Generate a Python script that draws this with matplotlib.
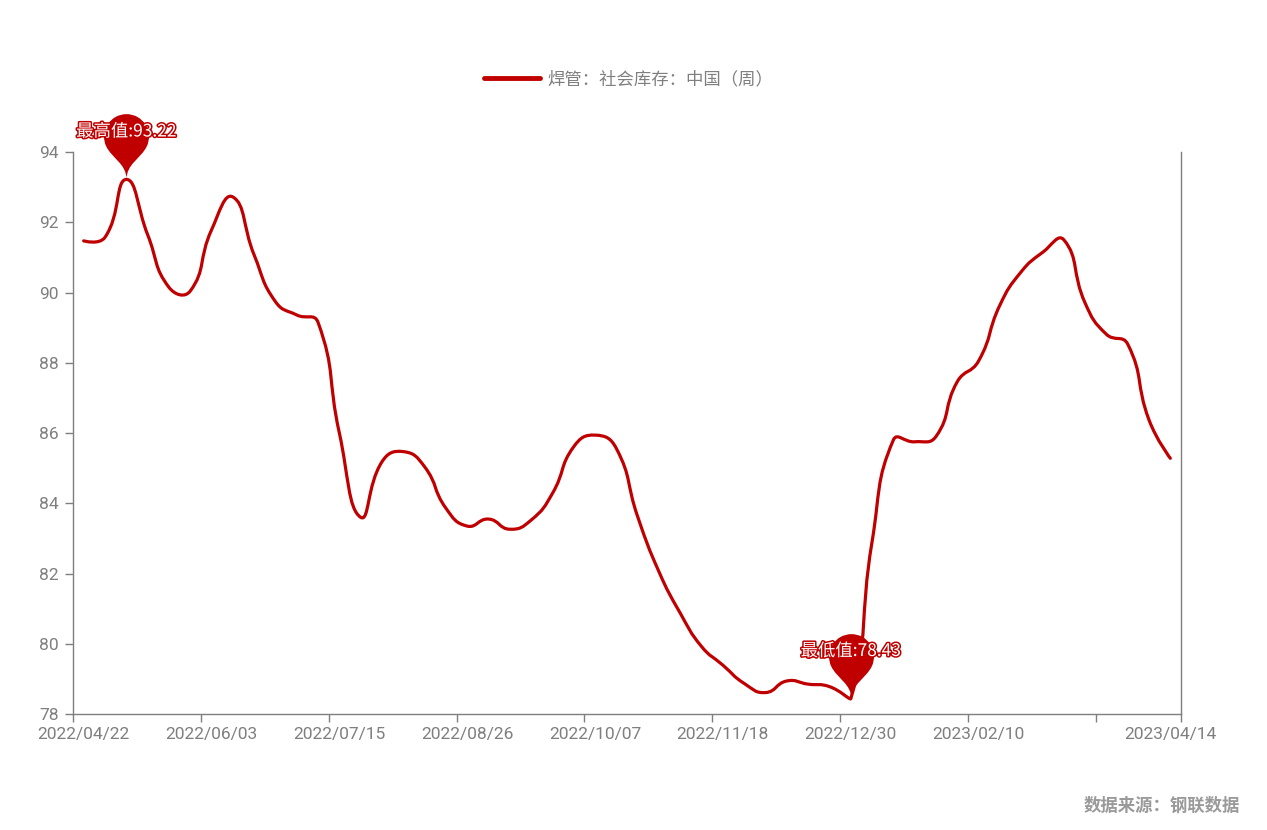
import matplotlib
matplotlib.use('Agg')
import matplotlib.pyplot as plt
import matplotlib.patheffects as pe
from matplotlib.path import Path
from matplotlib.patches import PathPatch
from matplotlib.lines import Line2D
import numpy as np
import pandas as pd

# weekly dates, 2022/04/22 .. 2023/04/14
weeks = pd.date_range('2022-04-22', periods=52, freq='7D').strftime('%Y/%m/%d').tolist()

stock = [91.47, 91.57, 93.22, 91.65, 90.15, 90.04, 91.78, 92.72, 91.07, 89.74,
         89.36, 89.15, 86.00, 83.60, 85.18, 85.47, 85.04, 83.86, 83.35, 83.55,
         83.26, 83.52, 84.28, 85.61, 85.94, 85.56, 83.62, 82.05, 80.87, 79.92,
         79.39, 78.87, 78.61, 78.94, 78.85, 78.78, 78.43, 82.90, 85.80, 85.75,
         85.90, 87.46, 88.05, 89.64, 90.59, 91.14, 91.50, 89.70, 88.81, 88.53,
         86.37, 85.28]

series_name = '焊管：社会库存：中国（周）'
source_text = '数据来源：钢联数据'
label_idx = [0, 6, 12, 18, 24, 30, 36, 42, 51]

RED = '#c00000'
GRAY = '#7f7f7f'
TICK_FONT = ['Roboto', 'DejaVu Sans']
CJK_FONT = ['Noto Sans CJK SC', 'DejaVu Sans']

fig = plt.figure(figsize=(12.67, 8.30), dpi=100)
ax = fig.add_axes([73 / 1267, 1 - 714 / 830, (1181 - 73) / 1267, (714 - 152) / 830])

n = len(stock)
x = np.arange(n)
y = np.array(stock)
ax.set_xlim(-0.5, n - 0.5)
ax.set_ylim(78, 94)

# pixel scale of one data unit, for echarts-like smoothing
o = ax.transData.transform((0, 0))
sx = ax.transData.transform((1, 0))[0] - o[0]
sy = ax.transData.transform((0, 1))[1] - o[1]


def smooth_path(xs, ys, smooth=0.5):
    P = np.column_stack([xs * sx, ys * sy])
    lo, hi = P.min(axis=0), P.max(axis=0)
    verts = [P[0]]
    codes = [Path.MOVETO]
    cp0 = P[0].copy()
    for i in range(1, len(P)):
        p = P[i]
        v = None
        if i == len(P) - 1:
            cp1 = p.copy()
        else:
            v = P[i + 1] - P[i - 1]
            d0 = np.hypot(*(p - P[i - 1]))
            d1 = np.hypot(*(P[i + 1] - p))
            r = d1 / (d0 + d1)
            cp1 = p - v * smooth * (1 - r)
        verts += [np.clip(cp0, lo, hi), np.clip(cp1, lo, hi), p]
        codes += [Path.CURVE4] * 3
        if v is not None:
            cp0 = p + v * smooth * r
    verts = np.array(verts) / [sx, sy]
    return Path(verts, codes)


ax.add_patch(PathPatch(smooth_path(x, y), fill=False, edgecolor=RED, lw=2.3,
                       capstyle='round', joinstyle='round', zorder=3))


# echarts-style pin, tip at (0, 0)
def pin_path(size=75.0):
    w = size / 5 * 3
    h = size
    r = w / 2
    dy = r * r / (h - r)
    cy = h - r - dy
    ang = np.arcsin(dy / r)
    dx = np.cos(ang) * r
    tx, ty = np.sin(ang), np.cos(ang)
    c1, c2 = r * 0.6, r * 0.7
    a = np.degrees(ang)
    arc = Path.arc(-a, 180 + a)
    av = arc.vertices * r + [0, cy]
    verts = list(av)
    codes = list(arc.codes)
    verts += [(-dx + tx * c1, cy - dy - ty * c1), (0, c2), (0, 0),
              (0, c2), (dx - tx * c1, cy - dy - ty * c1), (dx, cy - dy),
              (dx, cy - dy)]
    codes += [Path.CURVE4] * 6 + [Path.CLOSEPOLY]
    return Path(np.array(verts), codes)


pin = pin_path()
ms = 2 * np.max(np.abs(pin.vertices)) * 72 / fig.dpi

imax = int(np.argmax(y))
imin = int(np.argmin(y))
for i, lab in [(imax, '最高值'), (imin, '最低值')]:
    ax.plot(x[i], y[i], linestyle='none', marker=pin, markersize=ms,
            color=RED, markeredgewidth=0, clip_on=False, zorder=4)
    ax.annotate(f'{lab}:{y[i]:.2f}', (x[i], y[i]), xytext=(0, 34.5),
                textcoords='offset points', ha='center', va='center',
                fontsize=12.5, color='white', family=CJK_FONT, zorder=5,
                path_effects=[pe.withStroke(linewidth=2.2, foreground=RED)])

# axes styling
ax.spines['top'].set_visible(False)
for s in ['left', 'right', 'bottom']:
    ax.spines[s].set_color(GRAY)
    ax.spines[s].set_linewidth(1)

ax.set_yticks(np.arange(78, 95, 2))
ax.tick_params(axis='y', length=6, width=1, color=GRAY, labelcolor=GRAY,
               labelsize=12.5, pad=4)
for t in ax.get_yticklabels():
    t.set_family(TICK_FONT)

bounds = list(np.arange(-0.5, n, 6)) + [n - 0.5]
ax.set_xticks(bounds)
ax.set_xticklabels([])
ax.tick_params(axis='x', which='major', length=6, width=1, color=GRAY)
ax.set_xticks(label_idx, minor=True)
ax.set_xticklabels([weeks[i] for i in label_idx], minor=True)
ax.tick_params(axis='x', which='minor', length=0, labelcolor=GRAY,
               labelsize=12.5, pad=9)
for t in ax.get_xticklabels(minor=True):
    t.set_family(TICK_FONT)

# legend
handle = Line2D([], [], color=RED, lw=3.5, solid_capstyle='round')
fig.legend([handle], [series_name], loc='center',
           bbox_to_anchor=(629 / 1267, 1 - 79 / 830), frameon=False,
           handlelength=3.2, handletextpad=0.45,
           prop={'family': CJK_FONT, 'size': 12.5}, labelcolor=GRAY)

fig.text(1240 / 1267, 1 - 806 / 830, source_text, ha='right', va='center',
         color='#9a9a9a', fontsize=12.5, weight='bold', family=CJK_FONT)

fig.savefig('out.png', dpi=100)
